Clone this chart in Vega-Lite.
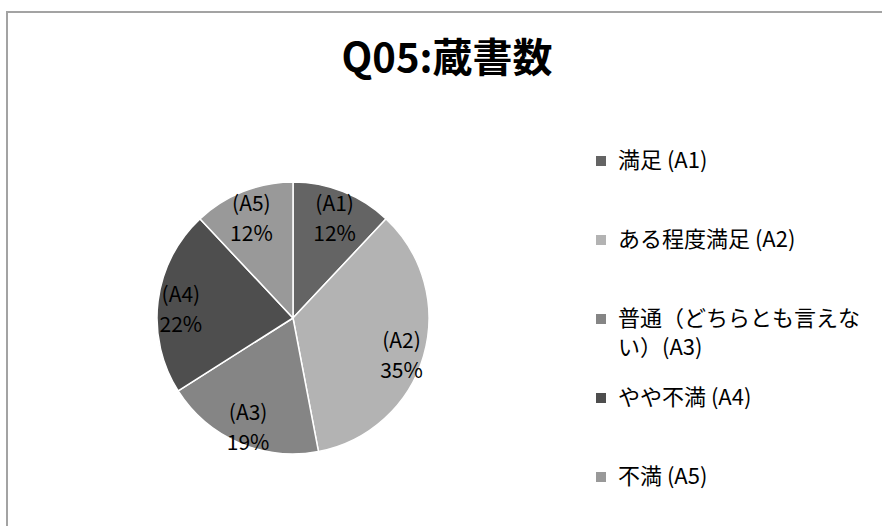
{
  "$schema": "https://vega.github.io/schema/vega-lite/v6.json",
  "width": 880,
  "height": 520,
  "autosize": {"type": "none"},
  "padding": {"left": 7, "top": 12, "right": 0, "bottom": 0},
  "background": "white",
  "config": {
    "view": {"stroke": "#a3a3a3", "strokeWidth": 2},
    "style": {"guide-label": {"lineHeight": 29}}
  },
  "title": {
    "text": "Q05:蔵書数",
    "frame": "group",
    "anchor": "middle",
    "offset": -68,
    "font": "Noto Sans CJK JP",
    "fontSize": 40,
    "fontWeight": "bold",
    "color": "#000000"
  },
  "data": {
    "values": [
      {"key": "A1", "label": "満足 (A1)|", "value": 12, "lbl": "(A1)\n12%"},
      {"key": "A2", "label": "ある程度満足 (A2)|", "value": 35, "lbl": "(A2)\n35%"},
      {"key": "A3", "label": "普通（どちらとも言えな|い）(A3)", "value": 19, "lbl": "(A3)\n19%"},
      {"key": "A4", "label": "やや不満 (A4)|", "value": 22, "lbl": "(A4)\n22%"},
      {"key": "A5", "label": "不満 (A5)|", "value": 12, "lbl": "(A5)\n12%"}
    ]
  },
  "encoding": {
    "theta": {"field": "value", "type": "quantitative", "stack": true},
    "order": {"field": "key", "type": "nominal"},
    "x": {"value": 286},
    "y": {"value": 306}
  },
  "layer": [
    {
      "mark": {"type": "arc", "outerRadius": 136, "stroke": "#ffffff", "strokeWidth": 1.5},
      "encoding": {
        "color": {
          "field": "label",
          "type": "nominal",
          "sort": ["満足 (A1)|", "ある程度満足 (A2)|", "普通（どちらとも言えな|い）(A3)", "やや不満 (A4)|", "不満 (A5)|"],
          "scale": {"range": ["#646464", "#b3b3b3", "#858585", "#4e4e4e", "#999999"]},
          "legend": {
            "orient": "none",
            "legendX": 583,
            "legendY": 138,
            "title": null,
            "padding": 0,
            "symbolType": "square",
            "symbolSize": 100,
            "symbolStrokeWidth": 0,
            "labelFont": "Noto Sans CJK JP",
            "labelFontSize": 22,
            "labelColor": "#000000",
            "labelOffset": 6,
            "labelLimit": 400,
            "rowPadding": 28,
            "labelExpr": "split(datum.label, '|')",
            "encode": {
              "labels": {
                "update": {
                  "lineHeight": {"value": 29},
                  "dy": {"value": 14.5}
                }
              }
            }
          }
        }
      }
    },
    {
      "mark": {
        "type": "text",
        "radius": 113,
        "dy": -8,
        "font": "Noto Sans CJK JP",
        "fontSize": 21,
        "lineHeight": 30,
        "lineBreak": "\n",
        "color": "#000000"
      },
      "encoding": {
        "text": {"field": "lbl", "type": "nominal"}
      }
    }
  ]
}
